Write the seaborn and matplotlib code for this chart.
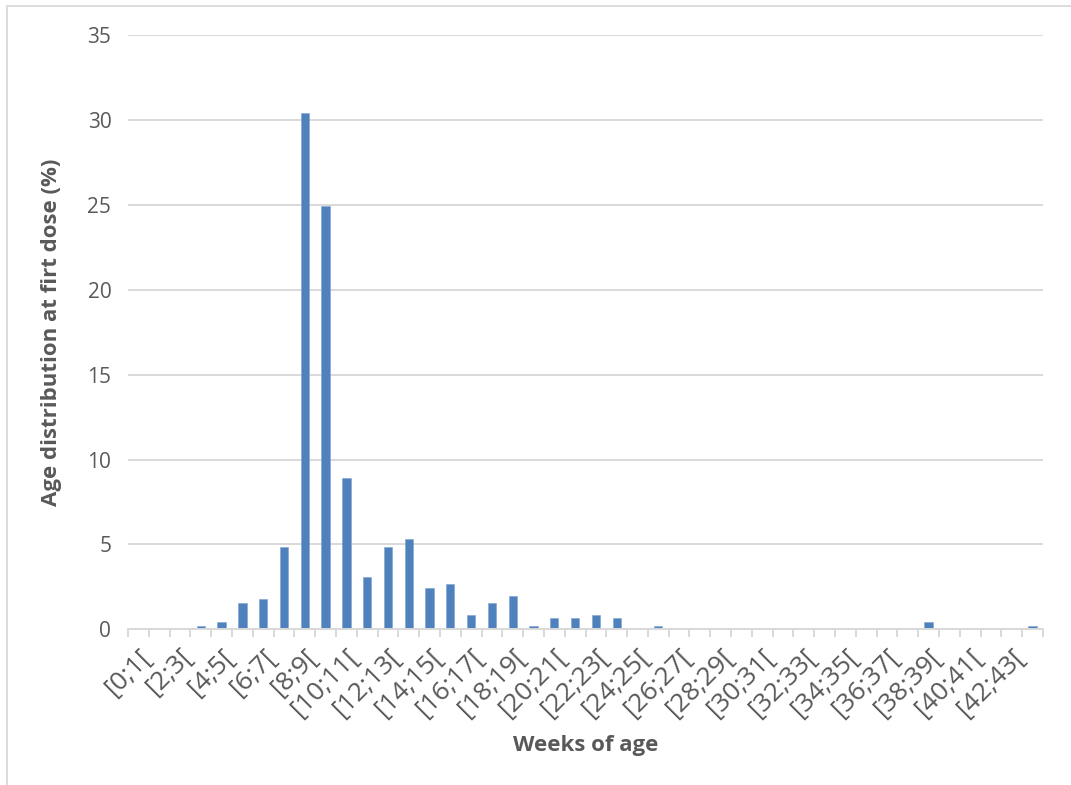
import matplotlib
matplotlib.use("Agg")
import matplotlib.pyplot as plt
import matplotlib.patches as mpatches
import seaborn as sns
import pandas as pd
import numpy as np

# Week-of-age bins and the share of first doses in each (%)
weeks = [f"[{i};{i + 1}[" for i in range(44)]
share = [0, 0, 0, 0.2, 0.42, 1.55, 1.77, 4.85, 30.42, 24.9, 8.9, 3.08,
         4.87, 5.3, 2.45, 2.65, 0.86, 1.55, 1.98, 0.2, 0.65, 0.65, 0.87,
         0.65, 0, 0.2, 0, 0, 0, 0, 0, 0, 0, 0, 0, 0, 0, 0, 0.42, 0, 0,
         0, 0, 0.2]
y_ticks = [0, 5, 10, 15, 20, 25, 30, 35]

df = pd.DataFrame({"week": weeks, "share": share})

sns.set_theme(style="white")
plt.rcParams["font.family"] = ["Open Sans", "DejaVu Sans"]

text_col = "#595959"
grid_col = "#D9D9D9"
bar_col = "#4F81BD"

fig = plt.figure(figsize=(10.71, 7.85), dpi=100)
W, H = 1071, 785
ax = fig.add_axes([128 / W, 1 - 629.3 / H, (1043 - 128) / W, (629.3 - 35) / H])

sns.barplot(data=df, x="week", y="share", color=bar_col, width=0.4,
            saturation=1, ax=ax, edgecolor="#7FA3D3", linewidth=0.4)

ax.set_ylim(0, 35)
ax.set_xlim(-0.5, len(weeks) - 0.5)
ax.set_yticks(y_ticks)
ax.set_yticklabels([str(t) for t in y_ticks], color=text_col, fontsize=15)
ax.yaxis.grid(True, color=grid_col, linewidth=1.4)
ax.set_axisbelow(True)

# Category labels on every other bin, rotated
ax.set_xticks(range(0, len(weeks), 2))
ax.set_xticklabels(weeks[::2], rotation=45, ha="right", rotation_mode="anchor",
                   color=text_col, fontsize=19)
ax.tick_params(axis="x", which="major", length=0, pad=10)
ax.tick_params(axis="y", length=0, pad=12)

# Tick marks at bin boundaries
ax.set_xticks(np.arange(-0.5, len(weeks), 1), minor=True)
ax.tick_params(axis="x", which="minor", length=6, width=1.4, color=grid_col,
               direction="out", bottom=True)

for side in ["left", "right", "top"]:
    ax.spines[side].set_visible(False)
ax.spines["bottom"].set_color(grid_col)
ax.spines["bottom"].set_linewidth(1.4)

ax.set_xlabel("Weeks of age", fontsize=16, fontweight="bold", color=text_col,
              labelpad=10)
ax.set_ylabel("Age distribution at firt dose (%)", fontsize=16,
              fontweight="bold", color=text_col, labelpad=18)

# Chart-area frame
frame = mpatches.Rectangle((7 / W, -0.1), 1.2, 1 - 6 / H + 0.1,
                           transform=fig.transFigure, fill=False,
                           edgecolor=grid_col, linewidth=1.3)
fig.patches.append(frame)

fig.savefig("out.png", dpi=100, facecolor="white")
